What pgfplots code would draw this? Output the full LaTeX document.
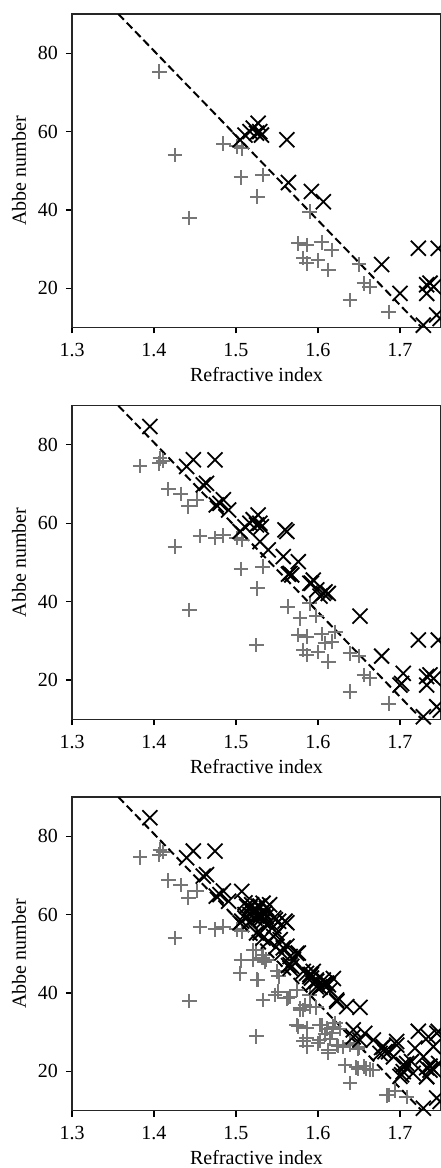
\documentclass[border=0pt]{standalone}
\usepackage{fontspec}
\setmainfont{Liberation Serif}
\usepackage{pgfplots}
\usepackage{pgfplotstable}
\pgfplotsset{compat=1.18}
\definecolor{mpgray}{RGB}{118,118,118}

% refractive index / Abbe number
\pgfplotstableread{
n v
1.4065 75.3
1.4256 54.0
1.443 37.9
1.4846 56.9
1.5008 56.2
1.5069 55.7
1.5061 48.3
1.5325 48.9
1.526 43.4
1.590 39.6
1.576 31.5
1.586 31.1
1.6045 31.7
1.6167 29.8
1.582 27.7
1.586 26.4
1.600 27.1
1.6126 24.7
1.650 26.1
1.656 21.3
1.663 20.4
1.639 17.0
1.686 14.0
}\grayA
\pgfplotstableread{
n v
1.5049 57.9
1.511 59.1
1.517 60.0
1.521 60.9
1.527 62.1
1.529 60.0
1.525 59.6
1.531 59.1
1.562 57.9
1.564 47.0
1.592 44.7
1.6065 42.1
1.6776 26.1
1.700 18.7
1.7224 30.2
1.7467 30.2
1.7325 20.9
1.7366 21.3
1.741 20.4
1.7325 18.7
1.7285 10.6
1.7447 13.2
1.749 12.3
}\blackA
\pgfplotstableread{
n v
1.383 74.6
1.4073 76.6
1.411 76.0
1.4175 68.7
1.4325 67.5
1.442 64.3
1.452 66.0
1.456 56.8
1.4744 56.2
1.525 28.9
1.563 38.7
1.578 35.7
1.598 36.3
1.621 32.3
1.6085 29.4
1.639 26.8
}\grayB
\pgfplotstableread{
n v
1.395 84.7
1.4398 74.5
1.448 76.2
1.4744 76.2
1.460 69.8
1.464 70.2
1.476 64.7
1.4805 65.1
1.4846 66.0
1.491 63.4
1.5293 55.3
1.5394 53.2
1.5598 58.3
1.5577 51.5
1.5760 50.2
1.5659 47.2
1.568 46.8
1.5943 45.5
1.590 44.7
1.5984 43.0
1.6085 42.5
1.6126 42.1
1.6025 41.4
1.6512 36.3
1.704 21.7
1.702 19.1
}\blackB
\pgfplotstableread{
n v
1.525 51.0
1.521 51.0
1.533 49.7
1.5313 48.9
1.535 48.0
1.521 48.5
1.537 48.5
1.505 45.0
1.527 43.3
1.550 45.5
1.552 44.2
1.533 38.2
1.5476 39.5
1.5516 40.3
1.5618 38.6
1.566 39.0
1.574 40.8
1.578 36.1
1.584 36.9
1.5817 35.6
1.590 36.5
1.574 31.8
1.602 31.8
1.6106 30.9
1.6187 31.4
1.627 30.9
1.586 28.4
1.602 27.9
1.6146 28.3
1.6248 26.5
1.6126 25.4
1.6228 26.7
1.631 26.2
1.639 27.1
1.649 25.8
1.633 21.5
1.649 20.7
1.659 20.7
1.667 20.3
1.6467 21.0
1.6838 13.9
1.694 15.1
1.708 13.4
}\grayC
\pgfplotstableread{
n v
1.507 65.9
1.511 63.0
1.513 62.1
1.517 61.7
1.519 62.5
1.521 61.2
1.525 60.8
1.529 62.1
1.533 62.9
1.537 61.7
1.541 62.5
1.535 60.4
1.529 59.5
1.523 59.1
1.511 60.0
1.507 58.3
1.517 58.3
1.533 58.3
1.539 57.8
1.546 59.1
1.552 58.3
1.537 59.5
1.548 58.7
1.546 57.0
1.550 55.3
1.525 55.3
1.533 54.0
1.554 53.6
1.546 54.4
1.549 51.8
1.562 51.9
1.556 50.2
1.566 49.3
1.574 50.1
1.570 48.5
1.566 46.3
1.582 45.5
1.586 45.0
1.590 44.2
1.598 43.3
1.592 43.8
1.594 42.5
1.602 41.6
1.598 41.6
1.6065 43.3
1.6106 42.5
1.6187 43.7
1.6146 40.7
1.6228 38.2
1.635 36.5
1.623 37.8
1.643 30.6
1.643 28.8
1.657 29.7
1.651 28.0
1.6675 28.0
1.6797 26.3
1.686 25.0
1.6756 24.6
1.6817 25.0
1.6959 27.6
1.696 26.7
1.692 23.7
1.706 21.2
1.708 22.0
1.704 19.9
1.714 22.5
1.7183 25.9
1.716 19.5
1.7346 28.8
1.745 29.7
1.7407 26.3
1.7285 23.7
1.7366 20.3
1.747 22.0
1.7325 18.6
}\blackC

\pgfplotsset{
  abbe/.style={
    scale only axis, width=369pt, height=313.5pt,
    anchor=north west,
    xmin=1.3, xmax=1.75, ymin=10, ymax=90,
    xtick={1.3,1.4,1.5,1.6,1.7}, xticklabels={1.3,1.4,1.5,1.6,1.7},
    ytick={20,40,60,80},
    tick align=outside, xtick pos=bottom, ytick pos=left,
    major tick length=6pt,
    tick style={line width=1.2pt, black},
    axis line style={line width=1.2pt, black!85},
    font=\fontsize{20}{24}\selectfont,
    /pgf/number format/assume math mode=true,
    xticklabel style={anchor=center, inner sep=0pt, yshift=-16.5pt},
    yticklabel style={anchor=east, inner sep=0pt, xshift=-8pt},
    xlabel={Refractive index}, ylabel={Abbe number},
    xlabel style={at={(axis description cs:0.5,-0.1505)}, anchor=center, inner sep=0pt},
    ylabel style={at={(axis description cs:-0.1436,0.5)}, anchor=center},
  },
  grayplus/.style={only marks, mark=+, mark size=7.3pt,
    mark options={line width=2pt, draw=mpgray}},
  blackx/.style={only marks, mark=x, mark size=10.6pt,
    mark options={line width=1.8pt, draw=black}},
  fitline/.style={black, line width=2pt, dash pattern=on 8pt off 4pt},
}

\begin{document}
\begin{tikzpicture}
\begin{axis}[abbe, at={(72pt,-14pt)}]
\addplot[grayplus] table[x=n,y=v] {\grayA};
\addplot[blackx] table[x=n,y=v] {\blackA};
\addplot[fitline] coordinates {(1.3565,90) (1.7265,10)};
\end{axis}
\begin{axis}[abbe, at={(72pt,-405.7pt)}]
\addplot[grayplus] table[x=n,y=v] {\grayA};
\addplot[grayplus] table[x=n,y=v] {\grayB};
\addplot[blackx] table[x=n,y=v] {\blackA};
\addplot[blackx] table[x=n,y=v] {\blackB};
\addplot[fitline] coordinates {(1.3565,90) (1.7265,10)};
\end{axis}
\begin{axis}[abbe, at={(72pt,-797pt)}]
\addplot[grayplus] table[x=n,y=v] {\grayA};
\addplot[grayplus] table[x=n,y=v] {\grayB};
\addplot[grayplus] table[x=n,y=v] {\grayC};
\addplot[blackx] table[x=n,y=v] {\blackA};
\addplot[blackx] table[x=n,y=v] {\blackB};
\addplot[blackx] table[x=n,y=v] {\blackC};
\addplot[fitline] coordinates {(1.3565,90) (1.7265,10)};
\end{axis}
\pgfresetboundingbox
\useasboundingbox (0,0) rectangle (441pt,-1168pt);
\end{tikzpicture}
\end{document}
